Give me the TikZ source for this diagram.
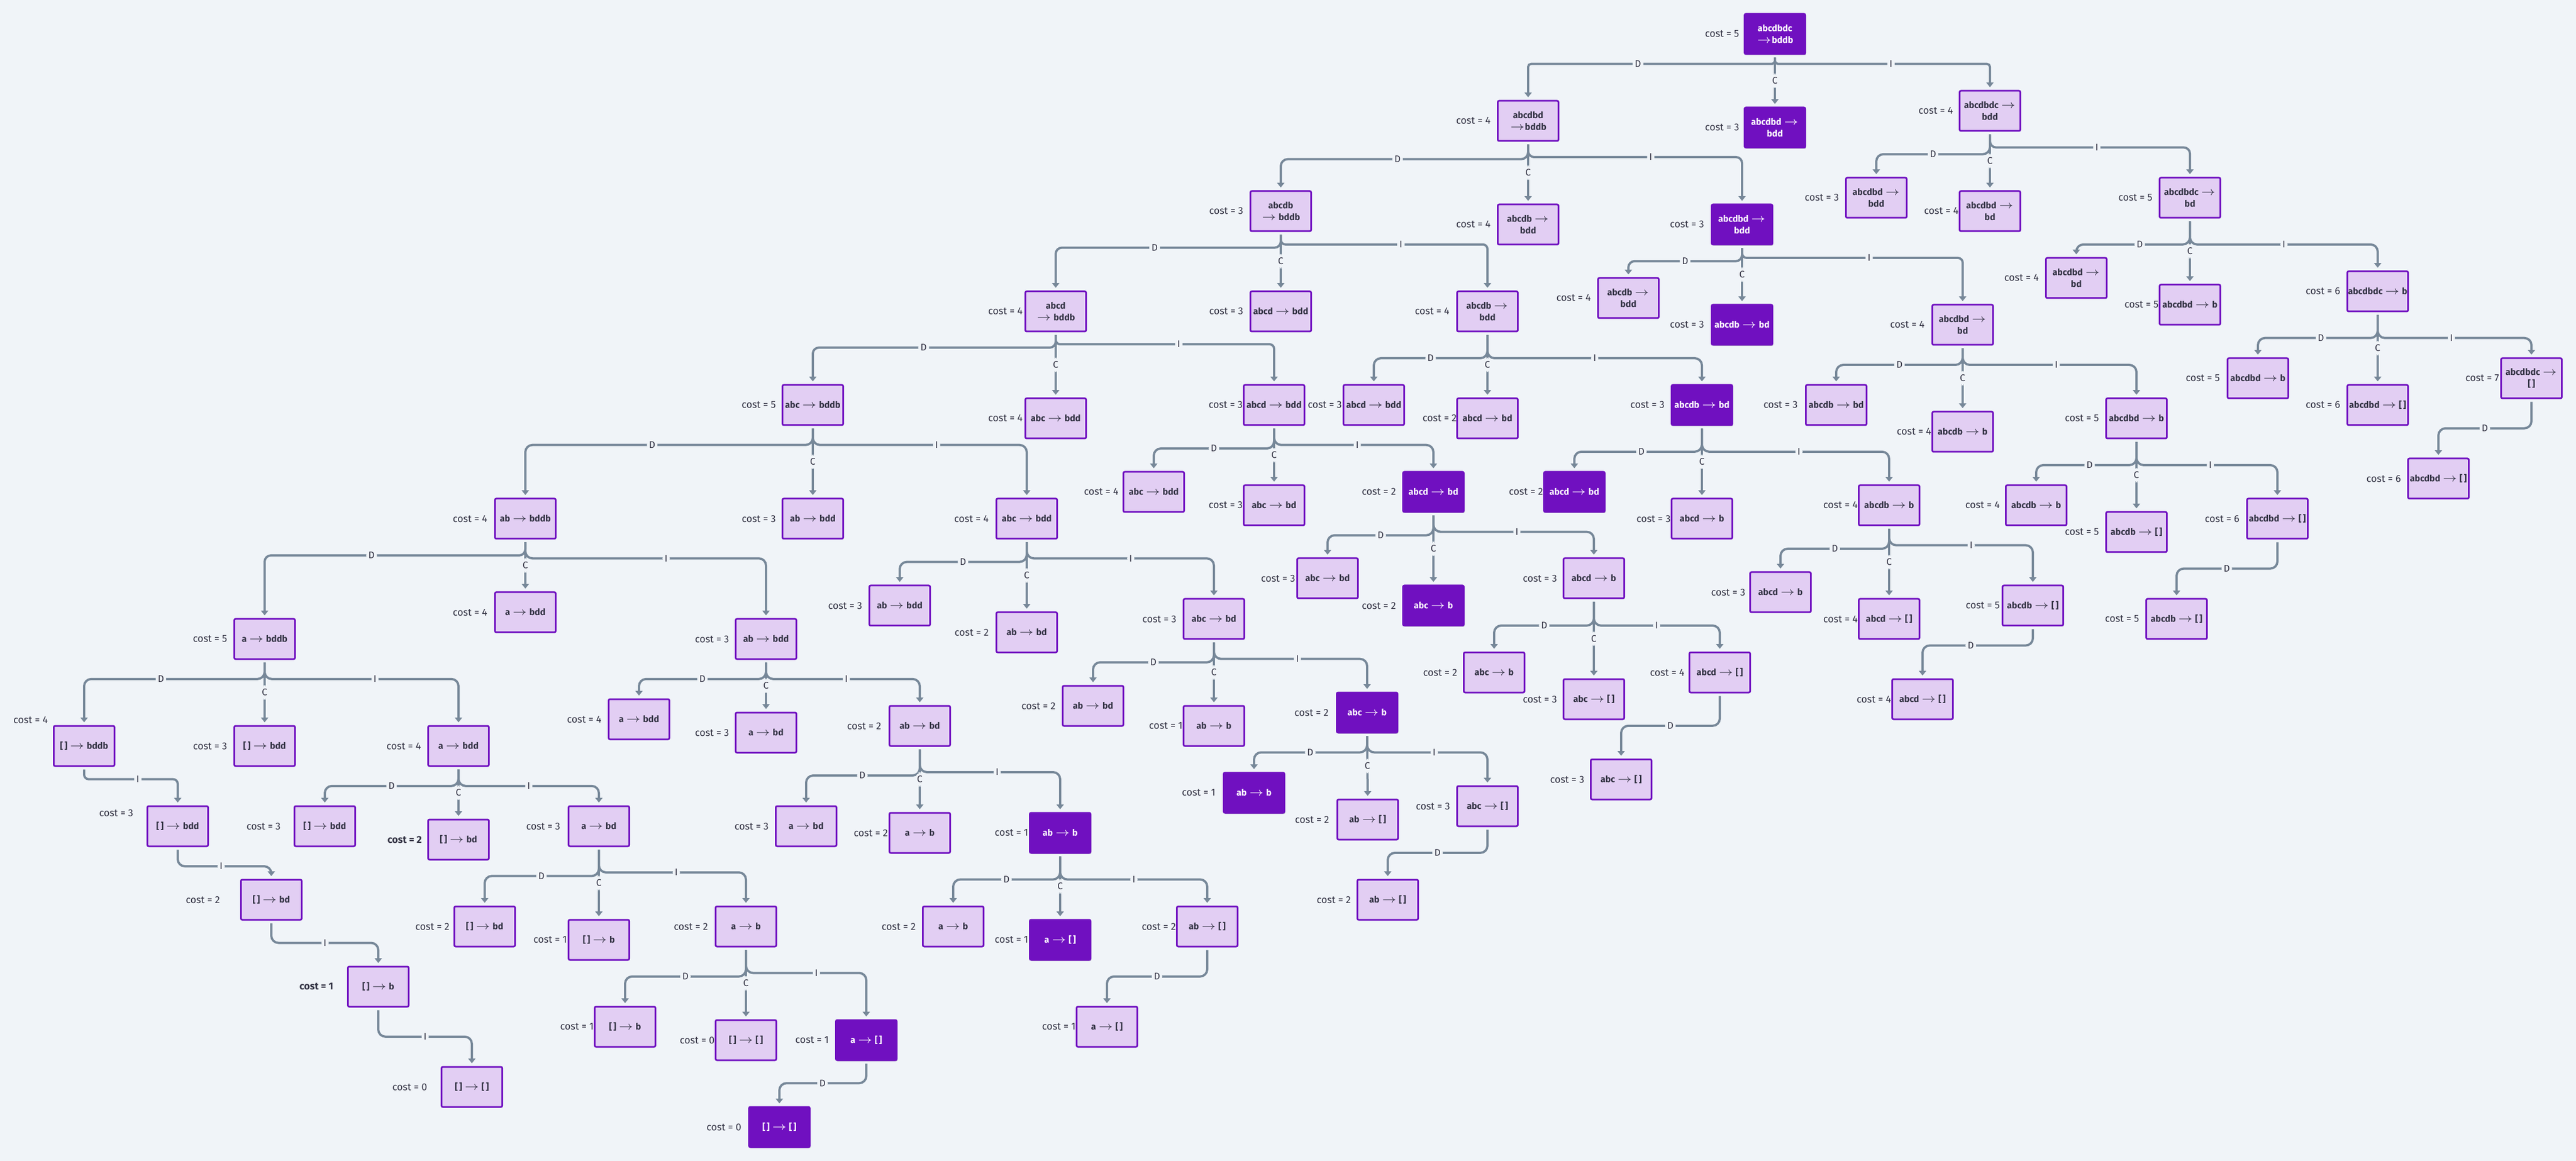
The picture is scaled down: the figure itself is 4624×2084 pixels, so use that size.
\documentclass[tikz,border=0pt]{standalone}
\usepackage{fontspec}
\setmainfont{Fira Sans}
\usetikzlibrary{arrows.meta,decorations.markings,shadows}
\definecolor{bgc}{HTML}{F0F4F8}
\definecolor{nfill}{HTML}{E2CEF3}
\definecolor{nborder}{HTML}{7010C0}
\definecolor{edgec}{HTML}{778899}
\definecolor{txtc}{HTML}{333344}
\newcommand\myto{\ensuremath{\rightarrow}}
\tikzset{
  box/.style={draw=nborder, fill=nfill, line width=0.75pt, rounded corners=0.6pt,
    minimum width=27.25pt, minimum height=18pt, inner sep=0pt, outer sep=1.6pt,
    align=center, font=\fontsize{4}{5.1}\selectfont\bfseries, text=txtc},
  dbox/.style={box, fill=nborder, text=white,
    drop shadow={shadow xshift=0.4pt, shadow yshift=-0.5pt, opacity=0.2, fill=black}},
  costl/.style={font=\fontsize{4.5}{5}\selectfont, text=txtc, inner sep=0pt, anchor=east},
  edge/.style={draw=edgec, line width=1pt, rounded corners=3.2pt,
    -{Triangle[length=2.1pt, width=3.2pt]}},
  elab/.style={fill=bgc, font=\fontsize{4.3}{4.5}\selectfont, text=txtc,
    inner xsep=1pt, inner ysep=1.6pt},
}
% node: name, cx, cy, text, style, cost, gap
\newcommand\nd[7]{%
  \node[#5] (#1) at (#2,#3) {#4};
  \node[costl] (#1c) at (#2-54.5-#7,#3) {cost = #6};}
% bent edge: parent, child, y of horizontal run, label
\newcommand\ed[4]{%
  \coordinate (yy) at (0,#3);
  \path (#1.south); \pgfgetlastxy{\edpx}{\edpy}%
  \path (yy); \pgfgetlastxy{\edqx}{\edqy}%
  \pgfmathsetlengthmacro\edrr{min(3.2pt, abs(\edpy-\edqy)/2.1)}%
  \draw[edge, rounded corners=\edrr, postaction={decorate, decoration={markings,
      mark=at position 0.5 with {\node[elab]{#4};}}}]
    (#1.south) -- (#1.south |- yy) -- (#2.north |- yy) -- (#2.north);}
% straight C edge
\newcommand\ec[2]{\draw[edge] (#1.south) -- node[elab]{C} (#2.north);}
\begin{document}
\begin{tikzpicture}[x=0.25pt, y=-0.25pt]
\useasboundingbox (0,0) rectangle (4624,2084);
\fill[bgc] (0,0) rectangle (4624,2084);
% ---------------- nodes
\nd{n1}{3186}{61}{abcdbdc\\\myto{}bddb}{dbox}{5}{9}
\nd{n2}{2743}{217}{abcdbd\\\myto{}bddb}{box}{4}{12}
\nd{n3}{3186}{229}{abcdbd \myto\\bdd}{dbox}{3}{9}
\nd{n4}{3572}{199}{abcdbdc \myto\\bdd}{box}{4}{11}
\nd{n5}{2299}{379}{abcdb\\\myto{} bddb}{box}{3}{12}
\nd{n6}{2743}{403}{abcdb \myto\\bdd}{box}{4}{12}
\nd{n7}{3127}{403}{abcdbd \myto\\bdd}{dbox}{3}{13}
\nd{n8}{3368}{355}{abcdbd \myto\\bdd}{box}{3}{12}
\nd{n9}{3572}{379}{abcdbd \myto\\bd}{box}{4}{1}
\nd{n10}{3931}{355}{abcdbdc \myto\\bd}{box}{5}{12}
\nd{n11}{1895}{559}{abcd\\\myto{} bddb}{box}{4}{4}
\nd{n12}{2299}{559}{abcd \myto{} bdd}{box}{3}{12}
\nd{n13}{2670}{559}{abcdb \myto\\bdd}{box}{4}{13}
\nd{n14}{2923}{535}{abcdb \myto\\bdd}{box}{4}{12}
\nd{n15}{3127}{583}{abcdb \myto{} bd}{dbox}{3}{13}
\nd{n16}{3523}{583}{abcdbd \myto\\bd}{box}{4}{13}
\nd{n17}{3727}{499}{abcdbd \myto\\bd}{box}{4}{12}
\nd{n18}{3931}{547}{abcdbd \myto{} b}{box}{5}{1}
\nd{n19}{4268}{523}{abcdbdc \myto{} b}{box}{6}{12}
\nd{n20}{1459}{727}{abc \myto{} bddb}{box}{5}{11}
\nd{n21}{1895}{751}{abc \myto{} bdd}{box}{4}{4}
\nd{n22}{2287}{727}{abcd \myto{} bdd}{box}{3}{1}
\nd{n23}{2466}{727}{abcd \myto{} bdd}{box}{3}{2}
\nd{n24}{2670}{751}{abcd \myto{} bd}{box}{2}{0}
\nd{n25}{3055}{727}{abcdb \myto{} bd}{dbox}{3}{12}
\nd{n26}{3296}{727}{abcdb \myto{} bd}{box}{3}{14}
\nd{n27}{3523}{775}{abcdb \myto{} b}{box}{4}{1}
\nd{n28}{3835}{751}{abcdbd \myto{} b}{box}{5}{12}
\nd{n29}{4053}{679}{abcdbd \myto{} b}{box}{5}{13}
\nd{n30}{4268}{727}{abcdbd \myto{} [\,]}{box}{6}{12}
\nd{n31}{4544}{679}{abcdbdc \myto\\{}[\,]}{box}{7}{3}
\nd{n32}{943}{931}{ab \myto{} bddb}{box}{4}{13}
\nd{n33}{1459}{931}{ab \myto{} bdd}{box}{3}{11}
\nd{n34}{1843}{931}{abc \myto{} bdd}{box}{4}{13}
\nd{n35}{2071}{883}{abc \myto{} bdd}{box}{4}{8}
\nd{n36}{2287}{907}{abc \myto{} bd}{box}{3}{1}
\nd{n37}{2573}{883}{abcd \myto{} bd}{dbox}{2}{12}
\nd{n38}{2826}{883}{abcd \myto{} bd}{dbox}{2}{1}
\nd{n39}{3055}{931}{abcd \myto{} b}{box}{3}{1}
\nd{n40}{3391}{907}{abcdb \myto{} b}{box}{4}{1}
\nd{n41}{3655}{907}{abcdb \myto{} b}{box}{4}{10}
\nd{n42}{3835}{955}{abcdb \myto{} [\,]}{box}{5}{12}
\nd{n43}{4088}{931}{abcdbd \myto{} [\,]}{box}{6}{13}
\nd{n44}{4377}{859}{abcdbd \myto{} [\,]}{box}{6}{12}
\nd{n45}{943}{1099}{a \myto{} bdd}{box}{4}{13}
\nd{n46}{475}{1147}{a \myto{} bddb}{box}{5}{12}
\nd{n47}{1375}{1147}{ab \myto{} bdd}{box}{3}{11}
\nd{n48}{1615}{1087}{ab \myto{} bdd}{box}{3}{12}
\nd{n49}{1843}{1135}{ab \myto{} bd}{box}{2}{13}
\nd{n50}{2179}{1111}{abc \myto{} bd}{box}{3}{12}
\nd{n51}{2383}{1038}{abc \myto{} bd}{box}{3}{3}
\nd{n52}{2573}{1087}{abc \myto{} b}{dbox}{2}{12}
\nd{n53}{2861}{1038}{abcd \myto{} b}{box}{3}{11}
\nd{n54}{3196}{1063}{abcd \myto{} b}{box}{3}{8}
\nd{n55}{3391}{1111}{abcd \myto{} [\,]}{box}{4}{1}
\nd{n56}{3649}{1087}{abcdb \myto{} [\,]}{box}{5}{4}
\nd{n57}{3907}{1111}{abcdb \myto{} [\,]}{box}{5}{12}
\nd{n58}{1147}{1291}{a \myto{} bdd}{box}{4}{12}
\nd{n59}{1375}{1315}{a \myto{} bd}{box}{3}{11}
\nd{n60}{1651}{1303}{ab \myto{} bd}{box}{2}{14}
\nd{n61}{1962}{1267}{ab \myto{} bd}{box}{2}{12}
\nd{n62}{2179}{1303}{ab \myto{} b}{box}{1}{1}
\nd{n63}{2454}{1279}{abc \myto{} b}{dbox}{2}{14}
\nd{n64}{2682}{1207}{abc \myto{} b}{box}{2}{11}
\nd{n65}{2861}{1255}{abc \myto{} [\,]}{box}{3}{11}
\nd{n66}{3087}{1207}{abcd \myto{} [\,]}{box}{4}{8}
\nd{n67}{3451}{1255}{abcd \myto{} [\,]}{box}{4}{1}
\node[box] (n68) at (151,1339) {[\,] \myto{} bddb};
\node[costl, anchor=center] (n68c) at (55,1292) {cost = 4};
\nd{n69}{475}{1339}{[\,] \myto{} bdd}{box}{3}{12}
\nd{n70}{823}{1339}{a \myto{} bdd}{box}{4}{12}
\node[box] (n71) at (319,1483) {[\,] \myto{} bdd};
\node[costl] (n71c) at (240,1459) {cost = 3};
\nd{n72}{583}{1483}{[\,] \myto{} bdd}{box}{3}{24}
\node[box] (n73) at (823,1507) {[\,] \myto{} bd};
\node[costl, font=\fontsize{4.5}{5}\selectfont\bfseries] (n73c) at (758,1507) {cost = 2};
\nd{n74}{1075}{1483}{a \myto{} bd}{box}{3}{14}
\nd{n75}{1447}{1483}{a \myto{} bd}{box}{3}{12}
\nd{n76}{1651}{1495}{a \myto{} b}{box}{2}{2}
\nd{n77}{1903}{1495}{ab \myto{} b}{dbox}{1}{2}
\nd{n78}{2251}{1423}{ab \myto{} b}{dbox}{1}{14}
\nd{n79}{2455}{1471}{ab \myto{} [\,]}{box}{2}{14}
\nd{n80}{2670}{1447}{abc \myto{} [\,]}{box}{3}{12}
\nd{n81}{2910}{1399}{abc \myto{} [\,]}{box}{3}{11}
\nd{n82}{487}{1615}{[\,] \myto{} bd}{box}{2}{37}
\nd{n83}{870}{1663}{[\,] \myto{} bd}{box}{2}{8}
\nd{n84}{1075}{1687}{[\,] \myto{} b}{box}{1}{2}
\nd{n85}{1339}{1663}{a \myto{} b}{box}{2}{13}
\nd{n86}{1711}{1663}{a \myto{} b}{box}{2}{12}
\nd{n87}{1903}{1687}{a \myto{} [\,]}{dbox}{1}{2}
\nd{n88}{2167}{1663}{ab \myto{} [\,]}{box}{2}{1}
\nd{n89}{2491}{1615}{ab \myto{} [\,]}{box}{2}{11}
\node[box] (n90) at (679,1771) {[\,] \myto{} b};
\node[costl, font=\fontsize{4.5}{5}\selectfont\bfseries] (n90c) at (599,1771) {cost = 1};
\nd{n91}{1122}{1843}{[\,] \myto{} b}{box}{1}{1}
\nd{n92}{1339}{1867}{[\,] \myto{} [\,]}{box}{0}{1}
\nd{n93}{1555}{1867}{a \myto{} [\,]}{dbox}{1}{12}
\nd{n94}{1987}{1843}{a \myto{} [\,]}{box}{1}{1}
\nd{n95}{847}{1951}{[\,] \myto{} [\,]}{box}{0}{25}
\nd{n96}{1399}{2023}{[\,] \myto{} [\,]}{dbox}{0}{13}
% ---------------- edges
\ed{n1}{n2}{114.7}{D} \ed{n1}{n4}{114.7}{I} \ec{n1}{n3}
\ed{n2}{n5}{285.7}{D} \ed{n2}{n7}{282}{I} \ec{n2}{n6}
\ed{n4}{n8}{276.8}{D} \ed{n4}{n10}{264.7}{I} \ec{n4}{n9}
\ed{n5}{n11}{444.6}{D} \ed{n5}{n13}{438.8}{I} \ec{n5}{n12}
\ed{n7}{n14}{468.8}{D} \ed{n7}{n16}{463}{I} \ec{n7}{n15}
\ed{n10}{n17}{438.8}{D} \ed{n10}{n19}{438.8}{I} \ec{n10}{n18}
\ed{n11}{n20}{624}{D} \ed{n11}{n22}{618}{I} \ec{n11}{n21}
\ed{n13}{n23}{643}{D} \ed{n13}{n25}{643}{I} \ec{n13}{n24}
\ed{n16}{n26}{655}{D} \ed{n16}{n28}{655}{I} \ec{n16}{n27}
\ed{n19}{n29}{606.7}{D} \ed{n19}{n31}{606.7}{I} \ec{n19}{n30}
\ed{n20}{n32}{798.7}{D} \ed{n20}{n34}{798.7}{I} \ec{n20}{n33}
\ed{n22}{n35}{805}{D} \ed{n22}{n37}{798.7}{I} \ec{n22}{n36}
\ed{n25}{n38}{810.8}{D} \ed{n25}{n40}{810.8}{I} \ec{n25}{n39}
\ed{n28}{n41}{834.9}{D} \ed{n28}{n43}{834.9}{I} \ec{n28}{n42}
\ed{n31}{n44}{768.8}{D}
\ed{n32}{n46}{997}{D} \ed{n32}{n47}{1002.3}{I} \ec{n32}{n45}
\ed{n34}{n48}{1008.6}{D} \ed{n34}{n50}{1002.3}{I} \ec{n34}{n49}
\ed{n37}{n51}{960.8}{D} \ed{n37}{n53}{954.6}{I} \ec{n37}{n52}
\ed{n40}{n54}{985}{D} \ed{n40}{n56}{978.7}{I} \ec{n40}{n55}
\ed{n43}{n57}{1020.6}{D}
\ed{n46}{n68}{1218.8}{D} \ed{n46}{n70}{1218.8}{I} \ec{n46}{n69}
\ed{n47}{n58}{1218.8}{D} \ed{n47}{n60}{1218.8}{I} \ec{n47}{n59}
\ed{n50}{n61}{1188.9}{D} \ed{n50}{n63}{1182.7}{I} \ec{n50}{n62}
\ed{n53}{n64}{1122.9}{D} \ed{n53}{n66}{1122.9}{I} \ec{n53}{n65}
\ed{n56}{n67}{1158.6}{D}
\ed{n60}{n75}{1392}{D} \ed{n60}{n77}{1386}{I} \ec{n60}{n76}
\ed{n63}{n78}{1350.5}{D} \ed{n63}{n80}{1350.5}{I} \ec{n63}{n79}
\ed{n66}{n81}{1302.8}{D}
\ed{n68}{n71}{1398.7}{I}
\ed{n70}{n72}{1410.8}{D} \ed{n70}{n74}{1410.8}{I} \ec{n70}{n73}
\ed{n71}{n82}{1555}{I}
\ed{n74}{n83}{1572.4}{D} \ed{n74}{n85}{1566}{I} \ec{n74}{n84}
\ed{n77}{n86}{1578.6}{D} \ed{n77}{n88}{1578.6}{I} \ec{n77}{n87}
\ed{n80}{n89}{1530.9}{D}
\ed{n82}{n90}{1692.5}{I}
\ed{n85}{n91}{1752.8}{D} \ed{n85}{n93}{1746.5}{I} \ec{n85}{n92}
\ed{n88}{n94}{1752.8}{D}
\ed{n90}{n95}{1860.8}{I}
\ed{n93}{n96}{1944.3}{D}
\end{tikzpicture}
\end{document}
